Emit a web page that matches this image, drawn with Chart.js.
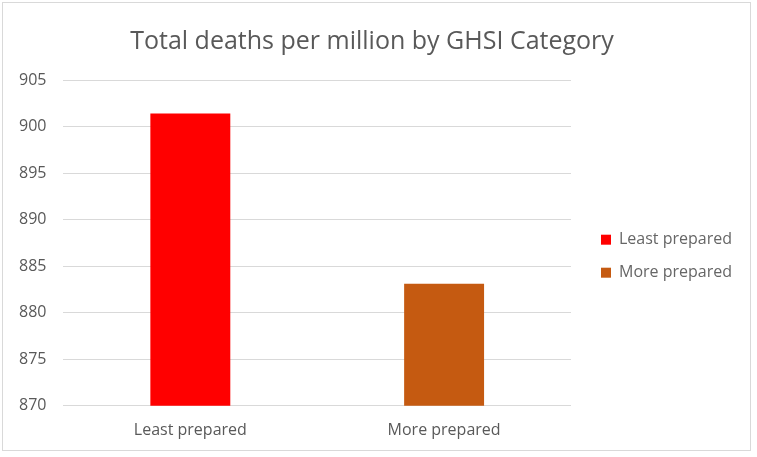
<!DOCTYPE html>
<html>
<head>
<meta charset="utf-8">
<script src="https://cdn.jsdelivr.net/npm/chart.js@4"></script>
<style>
  html, body { margin: 0; padding: 0; background: #fff; }
  #frame {
    position: absolute; left: 2px; top: 2px; width: 749px; height: 449px;
    border: 1px solid #d9d9d9; box-sizing: border-box;
  }
  #wrap { position: absolute; left: 0; top: 0; width: 757px; height: 457px; }
</style>
</head>
<body>
<div id="frame"></div>
<div id="wrap"><canvas id="bar-chart"></canvas></div>
<script>
const categories = ['Least prepared', 'More prepared'];
const deathsPerMillion = [901.4, 883.1];
const barColors = ['#ff0000', '#c55a11'];
const yTicks = [870, 875, 880, 885, 890, 895, 900, 905];

// extra room between plot area and legend
const legendGap = 13;
const legendGapPlugin = {
    id: 'legendGap',
    beforeUpdate(chart) {
        const lg = chart.legend;
        if (lg && !lg._gapPatched) {
            const fit = lg.fit.bind(lg);
            lg.fit = function () { fit(); this.width += legendGap; };
            lg._gapPatched = true;
        }
    },
    afterLayout(chart) {
        if (chart.legend) chart.legend.left += legendGap;
    }
};

const ctx = document.getElementById('bar-chart').getContext('2d');
new Chart(ctx, {
    type: 'bar',
    data: {
        labels: categories,
        datasets: [{
            data: deathsPerMillion,
            backgroundColor: barColors,
            categoryPercentage: 1,
            barPercentage: 0.315
        }]
    },
    options: {
        responsive: true,
        maintainAspectRatio: false,
        animation: false,
        layout: { padding: { left: 2, right: 15, top: 27, bottom: 10 } },
        plugins: {
            title: {
                display: true,
                text: 'Total deaths per million by GHSI Category',
                color: '#595959',
                font: { family: 'Open Sans', size: 25, weight: 'normal' },
                padding: { top: 0, bottom: 23 }
            },
            legend: {
                position: 'right',
                title: { display: true, text: ' ', font: { size: 12 }, padding: { top: 7, bottom: 17 } },
                labels: {
                    color: '#595959',
                    font: { family: 'Open Sans', size: 16 },
                    boxWidth: 10,
                    boxHeight: 10,
                    padding: 17,
                    generateLabels: chart => categories.map((c, i) => ({
                        text: c,
                        fillStyle: barColors[i],
                        strokeStyle: barColors[i],
                        lineWidth: 0,
                        index: i
                    }))
                }
            },
            tooltip: { enabled: false }
        },
        scales: {
            x: {
                grid: { display: false },
                border: { color: '#d9d9d9' },
                ticks: { color: '#595959', font: { family: 'Open Sans', size: 16 }, padding: 7 }
            },
            y: {
                min: 870,
                max: 905,
                afterBuildTicks: axis => { axis.ticks = yTicks.map(v => ({ value: v })); },
                grid: { color: '#d9d9d9', drawTicks: false, lineWidth: 1 },
                border: { display: false },
                ticks: { color: '#595959', font: { family: 'Open Sans', size: 16 }, padding: 17 }
            }
        }
    },
    plugins: [legendGapPlugin]
});
</script>
</body>
</html>
